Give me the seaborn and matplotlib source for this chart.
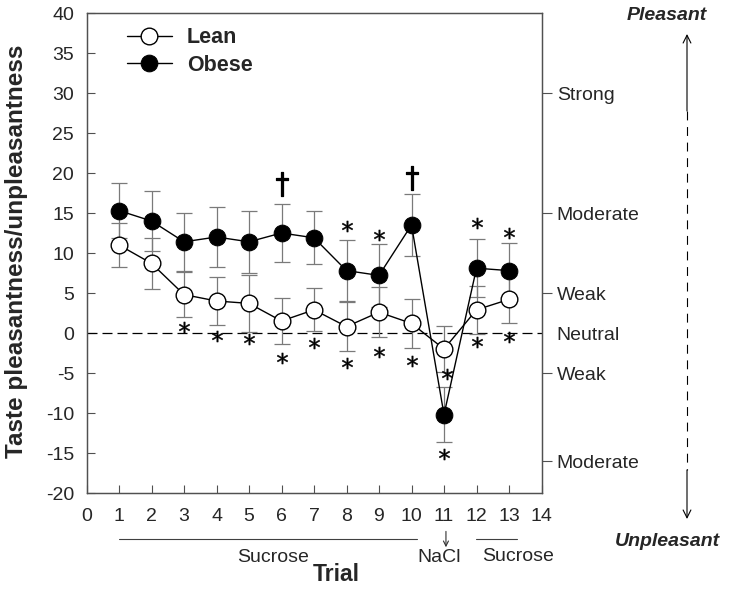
import matplotlib
matplotlib.use('Agg')
import pandas as pd
import matplotlib.pyplot as plt
from matplotlib.lines import Line2D
from matplotlib.patches import FancyArrowPatch
import seaborn as sns

# waarden
trials = list(range(1, 14))
lean = [11.0, 8.7, 4.8, 4.0, 3.7, 1.5, 2.9, 0.8, 2.6, 1.2, -2.0, 2.9, 4.2]
lean_sem = [2.7, 3.2, 2.8, 3.0, 3.6, 2.9, 2.7, 3.1, 3.1, 3.1, 2.9, 3.0, 3.0]
obese = [15.3, 14.0, 11.4, 12.0, 11.4, 12.5, 11.9, 7.8, 7.2, 13.5, -10.2, 8.1, 7.8]
obese_sem = [3.4, 3.8, 3.6, 3.8, 3.9, 3.6, 3.3, 3.8, 3.9, 3.9, 3.4, 3.6, 3.5]

# significantie tekens
star_x = [3, 4, 5, 6, 7, 8, 9, 10, 11.08, 11, 12, 13, 8, 9, 12, 13]
star_y = [0.7, -0.4, -0.8, -3.1, -1.3, -3.8, -2.4, -3.5, -5.1, -15.1, -1.1, -0.45,
          13.35, 12.2, 13.8, 12.45]
dagger_x = [6, 10]
dagger_y = [18.6, 19.4]

right_ticks = [30, 15, 5, 0, -5, -16]
right_labels = ['Strong', 'Moderate', 'Weak', 'Neutral', 'Weak', 'Moderate']

df = pd.DataFrame({'Trial': trials * 2,
                   'score': lean + obese,
                   'groep': ['Lean'] * 13 + ['Obese'] * 13})

sns.set_style('ticks')
plt.rcParams['font.family'] = ['Liberation Sans', 'DejaVu Sans']
plt.rcParams['axes.unicode_minus'] = False

fig = plt.figure(figsize=(7.29, 5.92), dpi=100)
ax = fig.add_axes([86.5 / 729, 1 - 493 / 592, 455 / 729, 480 / 592])

ax.axhline(0, color='black', ls=(0, (8, 4)), lw=0.9, zorder=1)

ax.errorbar(trials, lean, yerr=lean_sem, fmt='none', ecolor='#7a7a7a',
            elinewidth=0.9, capsize=5.5, capthick=0.9, zorder=2)
ax.errorbar(trials, obese, yerr=obese_sem, fmt='none', ecolor='#7a7a7a',
            elinewidth=0.9, capsize=5.5, capthick=0.9, zorder=2)

sns.lineplot(data=df[df['groep'] == 'Lean'], x='Trial', y='score', ax=ax,
             color='black', lw=1, marker='o', markersize=12,
             markerfacecolor='white', markeredgecolor='black',
             markeredgewidth=1, label='Lean', zorder=3)
sns.lineplot(data=df[df['groep'] == 'Obese'], x='Trial', y='score', ax=ax,
             color='black', lw=1, marker='o', markersize=12,
             markerfacecolor='black', markeredgecolor='black',
             label='Obese', zorder=4)

ax.plot(star_x, star_y, ls='none', marker='$*$', ms=8, color='black',
        markeredgewidth=0.3, zorder=5)
ax.plot(dagger_x, dagger_y, ls='none', marker=r'$\dagger$', ms=17,
        color='black', markeredgewidth=0.9, zorder=5)

ax.set_xlim(0, 14)
ax.set_ylim(-20, 40)
ax.set_xticks(range(0, 15))
ax.set_yticks(range(-20, 41, 5))
ax.tick_params(direction='in', length=6, width=0.8, color='#505050',
               labelsize=14, right=False, top=False)
ax.tick_params(axis='x', pad=11)
ax.tick_params(axis='y', pad=9)

ax.set_xlabel('Trial', fontsize=16.5, fontweight='bold')
ax.xaxis.set_label_coords(0.549, -0.145)
ax.set_ylabel('Taste pleasantness/unpleasantness', fontsize=17.5,
              fontweight='bold')
ax.yaxis.set_label_coords(-0.128, 0.504)

ax.legend(loc='upper left', bbox_to_anchor=(0.088, 0.97), frameon=False,
          prop={'weight': 'bold', 'size': 15.5}, handlelength=2.1,
          handletextpad=0.7, labelspacing=0.3, borderaxespad=0, borderpad=0)

# rechter as met intensiteit
ax2 = ax.twinx()
ax2.set_ylim(-20, 40)
ax2.set_yticks(right_ticks)
ax2.set_yticklabels(right_labels)
ax2.tick_params(direction='out', length=7, width=0.8, color='#505050',
                labelsize=14, pad=4)
ax2.yaxis.get_major_ticks()[3].tick2line.set_visible(False)

for a in (ax, ax2):
    for sp in a.spines.values():
        sp.set_visible(True)
        sp.set_color('#505050')
        sp.set_linewidth(0.9)

# Sucrose / NaCl markering onder de x-as
xt = ax.get_xaxis_transform()
ax.plot([1, 10.17], [-0.0956, -0.0956], transform=xt, color='#404040',
        lw=0.8, clip_on=False)
ax.plot([11.98, 13.24], [-0.0956, -0.0956], transform=xt, color='#404040',
        lw=0.8, clip_on=False)
ax.add_artist(FancyArrowPatch((11.06, -0.08), (11.06, -0.113), transform=xt,
                              arrowstyle='->', mutation_scale=9, lw=0.8,
                              color='#303030', clip_on=False,
                              shrinkA=0, shrinkB=0))
ax.text(5.74, -0.134, 'Sucrose', transform=xt, ha='center', va='center',
        fontsize=14)
ax.text(10.85, -0.135, 'NaCl', transform=xt, ha='center', va='center',
        fontsize=14)
ax.text(13.29, -0.132, 'Sucrose', transform=xt, ha='center', va='center',
        fontsize=14)

# Pleasant / Unpleasant pijl rechts
fig.text(667 / 729, 1 - 15 / 592, 'Pleasant', ha='center', va='center',
         fontsize=14, fontweight='bold', fontstyle='italic')
fig.text(667 / 729, 1 - 541 / 592, 'Unpleasant', ha='center', va='center',
         fontsize=14, fontweight='bold', fontstyle='italic')
px = 687 / 729
fig.add_artist(FancyArrowPatch((px, 1 - 111 / 592), (px, 1 - 34 / 592),
                               transform=fig.transFigure, arrowstyle='->',
                               mutation_scale=14, lw=0.8, color='black',
                               shrinkA=0, shrinkB=0))
fig.add_artist(Line2D([px, px], [1 - 111 / 592, 1 - 470 / 592],
                      transform=fig.transFigure, color='black', lw=0.8,
                      ls=(0, (8, 6))))
fig.add_artist(FancyArrowPatch((px, 1 - 470 / 592), (px, 1 - 519 / 592),
                               transform=fig.transFigure, arrowstyle='->',
                               mutation_scale=14, lw=0.8, color='black',
                               shrinkA=0, shrinkB=0))

fig.savefig('out.png', dpi=100)
